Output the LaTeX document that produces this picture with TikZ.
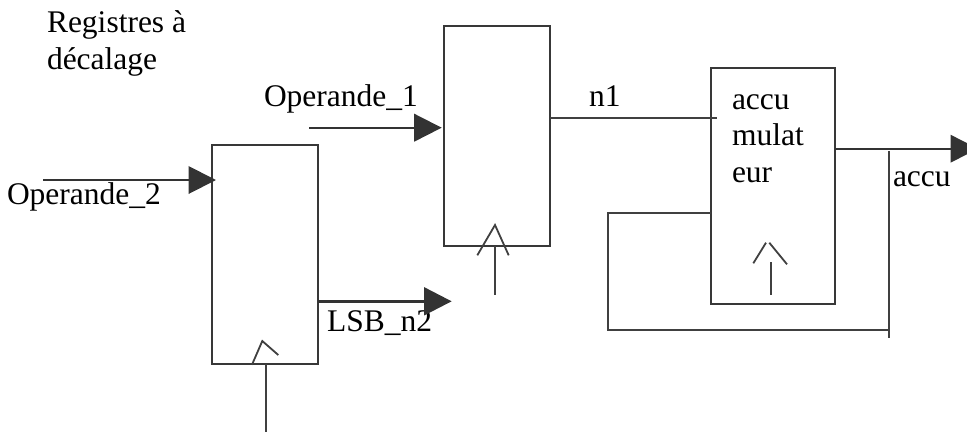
\documentclass[tikz,border=0pt]{standalone}
\usepackage{fontspec}
\setmainfont{Liberation Serif}
\usetikzlibrary{positioning, calc, arrows.meta}

\tikzset{
	regbox/.style={draw=black!78, line width=2pt, minimum width=106pt, outer sep=0pt, inner sep=0pt},
	wire/.style={draw=black!75, line width=1.8pt},
	inarrow/.style={-{Triangle[length=27.5pt, width=27.5pt]}, draw=black!80, color=black!80, line width=2pt},
	lbl/.style={anchor=base west, inner sep=0pt, outer sep=0pt, font=\fontsize{31.5}{36.5}\selectfont, align=left}
}

\begin{document}
\begin{tikzpicture}
		[x=1pt, y=-1pt]
		\useasboundingbox (0, 0) rectangle (967, 432);
		\clip (0, 0) rectangle (967, 432);

		\node[regbox, minimum height=219.5pt] (regB) at (265, 254.5) {};
		\node[regbox, minimum height=219.5pt] (regA) at (497, 136.2) {};
		\node[regbox, minimum width=124pt, minimum height=236pt] (accuBox) at (773, 186) {};

		\node[lbl] (title) at (47, 69.3) {Registres à\\décalage};
		\node[lbl] (opA) at (264, 106.7) {Operande\_1};
		\node[lbl] (opB) at (7, 204) {Operande\_2};
		\node[lbl] (lsb) at (327, 331.7) {LSB\_n2};
		\node[lbl] (nA) at (589, 106.7) {n1};
		\node[lbl] (accuTxt) at (732, 182.3) {accu\\mulat\\eur};
		\node[lbl] (accuOut) at (893, 186.7) {accu};

		\coordinate (opBs) at (43, 180);
		\coordinate (opBe) at (216, 180);
		\coordinate (opAs) at (309, 127.7);
		\coordinate (opAe) at (441.7, 127.7);
		\coordinate (lsbs) at (regB.east |- 0, 301.3);
		\coordinate (lsbe) at (451.7, 301.3);
		\coordinate (accus) at (accuBox.east |- 0, 148.7);
		\coordinate (accue) at (978, 148.7);
		\coordinate (nAs) at (regA.east |- 0, 118.3);
		\coordinate (nAe) at (716.7, 118.3);

		\draw[inarrow] (opBs) -- (opBe);
		\draw[inarrow] (opAs) -- (opAe);
		\draw[inarrow, line width=3pt] (lsbs) -- (lsbe);
		\draw[inarrow] (accus) -- (accue);
		\draw[wire] (nAs) -- (nAe);

		\coordinate (fbs) at (accuBox.west |- 0, 213.3);
		\coordinate (fbc) at (608, 213.3);
		\coordinate (fbd) at (608, 330.3);
		\coordinate (fbe) at (888.7, 330.3);
		\coordinate (tapT) at (888.7, 151);
		\coordinate (tapB) at (888.7, 338);
		\draw[wire] (fbs) -- (fbc) -- (fbd) -- (fbe);
		\draw[wire] (tapT) -- (tapB);

		\coordinate (clkB) at (265.7, 432);
		\draw[wire] (regB.south -| clkB) -- (clkB);
		\draw[wire] (252, 364.7) -- (262.3, 341) -- (278.3, 355);

		\coordinate (clkA) at (495, 295);
		\draw[wire] (regA.south -| clkA) -- (clkA);
		\draw[wire] (477.3, 255.3) -- (495, 225) -- (508.7, 255.3);

		\coordinate (clkCt) at (771, 262.3);
		\coordinate (clkCb) at (771, 295.3);
		\draw[wire] (clkCt) -- (clkCb);
		\draw[wire] (753.3, 263.3) -- (766, 242.7);
		\draw[wire] (769.3, 242.7) -- (787, 264.3);
	\end{tikzpicture}
\end{document}
